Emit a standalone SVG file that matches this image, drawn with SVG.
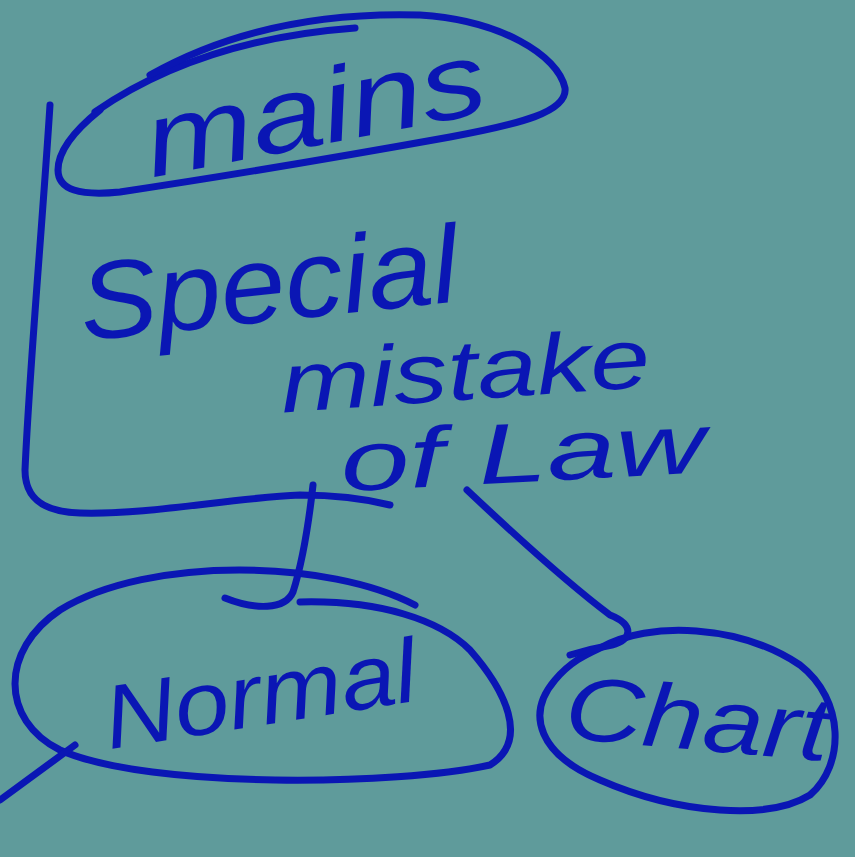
<svg xmlns="http://www.w3.org/2000/svg" width="855" height="857" viewBox="0 0 855 857">
<style>
.s{fill:none;stroke:#0a16b4;stroke-width:7;stroke-linecap:round;stroke-linejoin:round}
.t{fill:#0a16b4;font-family:"Liberation Sans",Arial,sans-serif;font-style:italic}
</style>
<rect width="855" height="857" fill="#5f9b9b"/>
<g id="mains">
<path class="s" d="M95,112 C170,60 260,35 355,28"/>
<path class="s" d="M150,75 C230,30 320,12 420,15 C500,20 558,55 565,88 C568,112 520,124 450,137 C350,155 200,180 120,192 C80,196 58,190 58,170 C58,150 75,130 100,110"/>
<text class="t" x="152" y="176" font-size="105" textLength="345" lengthAdjust="spacingAndGlyphs" transform="rotate(-11 160 176)">mains</text>
</g>
<g id="special">
<text class="t" x="78" y="322" font-size="110" textLength="380" lengthAdjust="spacingAndGlyphs" transform="rotate(-6 260 280)">Special</text>
<text class="t" x="280" y="400" font-size="85" textLength="370" lengthAdjust="spacingAndGlyphs" transform="rotate(-4 460 370)">mistake</text>
<text class="t" x="340" y="482" font-size="85" textLength="365" lengthAdjust="spacingAndGlyphs" transform="rotate(-3 520 450)">of Law</text>
</g>
<g id="normal">
<path class="s" d="M415,605 C330,560 150,555 60,610 C0,650 0,720 60,750 C150,790 400,785 490,765 C530,740 505,690 470,650 C440,620 380,600 300,602"/>
<text class="t" x="102" y="725" font-size="90" textLength="315" lengthAdjust="spacingAndGlyphs" transform="rotate(-9 260 690)">Normal</text>
</g>
<g id="chart">
<path class="s" d="M600,648 C650,620 740,625 800,665 C845,700 845,765 810,795 C770,820 680,815 600,780 C540,755 525,715 555,680 C570,662 585,655 600,648"/>
<text class="t" x="565" y="750" font-size="90" textLength="265" lengthAdjust="spacingAndGlyphs" transform="rotate(5 700 720)">Chart</text>
</g>
<g id="connectors">
<path class="s" d="M50,105 C42,230 30,360 25,470 C25,500 45,512 80,513 C150,515 230,498 300,495 C340,495 370,500 390,505"/>
<path class="s" d="M313,485 C308,530 300,570 293,592 C285,610 255,610 225,598"/>
<path class="s" d="M467,490 C520,540 570,585 610,615 C635,625 632,640 612,645 C595,648 580,652 570,655"/>
<path class="s" d="M75,745 L0,800"/>
</g>
</svg>
